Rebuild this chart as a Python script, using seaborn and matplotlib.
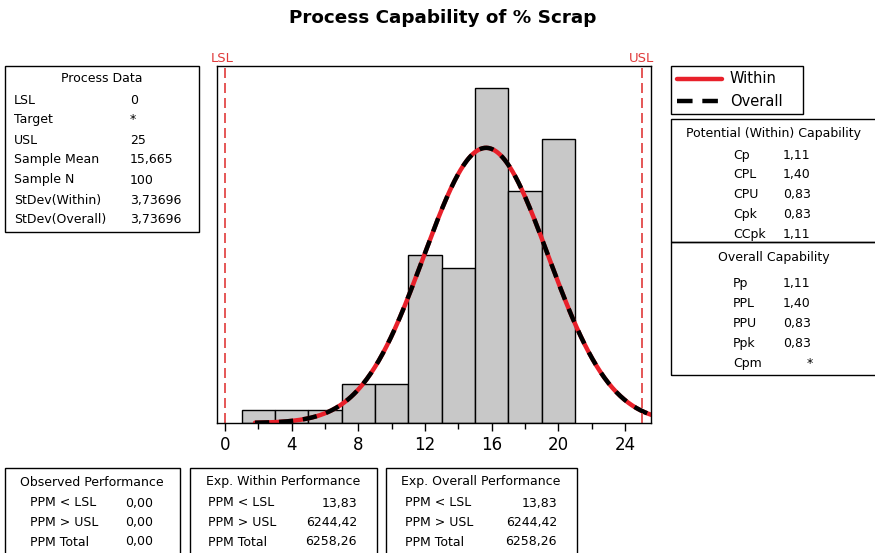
import numpy as np
import pandas as pd
import matplotlib
matplotlib.use("Agg")
import matplotlib.pyplot as plt
from matplotlib.patches import Rectangle
from matplotlib.lines import Line2D
import seaborn as sns

# ---- data ----
bin_edges = [1, 3, 5, 7, 9, 11, 13, 15, 17, 19, 21]
bin_counts = [1, 1, 1, 3, 3, 13, 12, 26, 18, 22]
lsl = 0
usl = 25
sample_mean = 15.665
sample_n = 100
stdev_within = 3.73696
stdev_overall = 3.73696
x_ticks = [0, 4, 8, 12, 16, 20, 24]

process_labels = ["LSL", "Target", "USL", "Sample Mean", "Sample N", "StDev(Within)", "StDev(Overall)"]
process_values = ["0", "*", "25", "15,665", "100", "3,73696", "3,73696"]
within_labels = ["Cp", "CPL", "CPU", "Cpk", "CCpk"]
within_values = ["1,11", "1,40", "0,83", "0,83", "1,11"]
overall_labels = ["Pp", "PPL", "PPU", "Ppk", "Cpm"]
overall_values = ["1,11", "1,40", "0,83", "0,83", "*"]
perf_labels = ["PPM < LSL", "PPM > USL", "PPM Total"]
observed_values = ["0,00", "0,00", "0,00"]
exp_within_values = ["13,83", "6244,42", "6258,26"]
exp_overall_values = ["13,83", "6244,42", "6258,26"]

W, H = 875, 553
sns.set_theme(style="white")
plt.rcParams['font.family'] = ['DejaVu Sans']
plt.rcParams['text.color'] = 'black'
plt.rcParams['xtick.color'] = 'black'

fig = plt.figure(figsize=(W / 100, H / 100), dpi=100)
fig.patch.set_facecolor("white")

def fx(px):
    return px / W

def fy(py):
    return 1 - py / H

# main axes
ax_l, ax_r, ax_t, ax_b = 217, 651, 66, 423
ax = fig.add_axes([fx(ax_l), fy(ax_b), fx(ax_r - ax_l), (ax_b - ax_t) / H])

centers = [(bin_edges[i] + bin_edges[i + 1]) / 2 for i in range(len(bin_counts))]
df = pd.DataFrame({"x": centers, "w": bin_counts})
sns.histplot(data=df, x="x", weights="w", bins=bin_edges, ax=ax,
             color="#c8c8c8", edgecolor="black", linewidth=1.0, alpha=1.0)

bw = bin_edges[1] - bin_edges[0]
xs = np.linspace(1.8, 25.7, 400)
pdf_w = sample_n * bw * np.exp(-0.5 * ((xs - sample_mean) / stdev_within) ** 2) / (stdev_within * np.sqrt(2 * np.pi))
pdf_o = sample_n * bw * np.exp(-0.5 * ((xs - sample_mean) / stdev_overall) ** 2) / (stdev_overall * np.sqrt(2 * np.pi))
sns.lineplot(x=xs, y=pdf_w, ax=ax, color="#e8202a", linewidth=3.2)
sns.lineplot(x=xs, y=pdf_o, ax=ax, color="black", linewidth=3.2, linestyle=(0, (3.2, 2.2)))

ax.axvline(lsl, color="#e03a3a", linestyle=(0, (6, 3)), linewidth=1.2)
ax.axvline(usl, color="#e03a3a", linestyle=(0, (6, 3)), linewidth=1.2)

ax.set_xlim(-0.48, 25.56)
ax.set_ylim(0, 27.7)
ax.set_xticks(x_ticks)
ax.set_xticklabels([str(t) for t in x_ticks], fontsize=12)
ax.set_xticks([t + 2 for t in x_ticks if t + 2 < 25.5], minor=True)
ax.tick_params(axis="x", which="major", direction="out", length=6, width=1, bottom=True, pad=3, colors="black")
ax.tick_params(axis="x", which="minor", direction="out", length=4, width=1, bottom=True)
ax.set_yticks([])
ax.set_xlabel("")
ax.set_ylabel("")
for s in ax.spines.values():
    s.set_color("black")
    s.set_linewidth(1.0)
    s.set_visible(True)

# title and spec labels
fig.text(fx(443), fy(18), "Process Capability of % Scrap", ha="center", va="center",
         fontsize=13.2, fontweight="bold", color="black")
fig.text(fx(222), fy(58), "LSL", ha="center", va="center", color="#e03a3a", fontsize=9.5)
fig.text(fx(642), fy(58), "USL", ha="center", va="center", color="#e03a3a", fontsize=9.5)

FS = 9

def box(x0, y0, x1, y1):
    fig.add_artist(Rectangle((fx(x0), fy(y1)), fx(x1 - x0), (y1 - y0) / H,
                             transform=fig.transFigure, fill=False,
                             edgecolor="black", linewidth=1.0))

def txt(x, y, s, ha="left"):
    fig.text(fx(x), fy(y), s, ha=ha, va="center", fontsize=FS, color="black")

# Process data box
box(5, 66, 199, 232)
txt(102, 79, "Process Data", ha="center")
for i, (l, v) in enumerate(zip(process_labels, process_values)):
    txt(14, 100 + i * 20, l)
    txt(130, 100 + i * 20, v)

# legend box
box(671, 66, 803, 114)
fig.add_artist(Line2D([fx(677), fx(722)], [fy(79), fy(79)], transform=fig.transFigure,
                      color="#e8202a", linewidth=3.2))
fig.add_artist(Line2D([fx(677), fx(722)], [fy(101), fy(101)], transform=fig.transFigure,
                      color="black", linewidth=3.2, linestyle=(0, (3.5, 2.2))))
fig.text(fx(730), fy(79), "Within", ha="left", va="center", fontsize=10.5, color="black")
fig.text(fx(730), fy(101), "Overall", ha="left", va="center", fontsize=10.5, color="black")

# capability boxes
box(671, 119, 877, 242)
box(671, 242, 877, 375)
txt(774, 133, "Potential (Within) Capability", ha="center")
for i, (l, v) in enumerate(zip(within_labels, within_values)):
    txt(733, 155 + i * 19.8, l)
    txt(783, 155 + i * 19.8, v)
txt(774, 258, "Overall Capability", ha="center")
for i, (l, v) in enumerate(zip(overall_labels, overall_values)):
    txt(733, 284 + i * 19.8, l)
    if v == "*":
        txt(813, 284 + i * 19.8, v, ha="right")
    else:
        txt(783, 284 + i * 19.8, v)

# performance boxes
box(5, 468, 180, 560)
txt(92, 482, "Observed Performance", ha="center")
for i, (l, v) in enumerate(zip(perf_labels, observed_values)):
    txt(30, 503 + i * 19.5, l)
    txt(125, 503 + i * 19.5, v)

box(190, 468, 377, 560)
txt(283, 482, "Exp. Within Performance", ha="center")
for i, (l, v) in enumerate(zip(perf_labels, exp_within_values)):
    txt(208, 503 + i * 19.5, l)
    txt(357, 503 + i * 19.5, v, ha="right")

box(386, 468, 577, 560)
txt(481, 482, "Exp. Overall Performance", ha="center")
for i, (l, v) in enumerate(zip(perf_labels, exp_overall_values)):
    txt(405, 503 + i * 19.5, l)
    txt(557, 503 + i * 19.5, v, ha="right")

fig.savefig("out.png", dpi=100, facecolor="white")
